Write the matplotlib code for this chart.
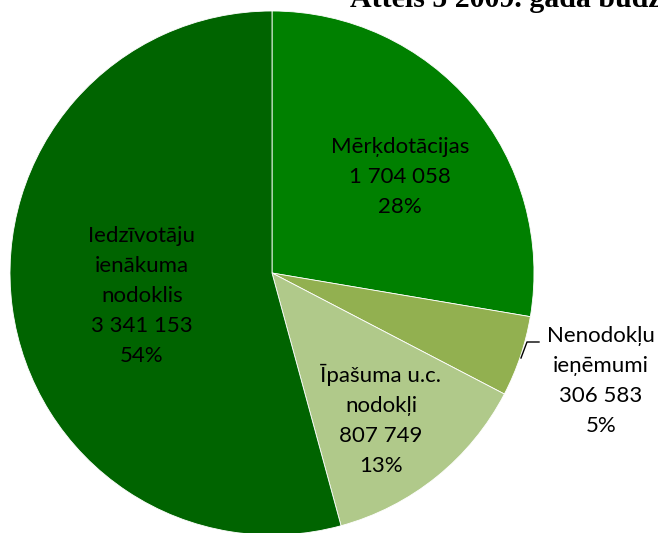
import matplotlib.pyplot as plt

# budget 2009 revenue parts, clockwise from 12 o'clock
names = ["Mērķdotācijas", "Nenodokļu\nieņēmumi", "Īpašuma u.c.\nnodokļi",
         "Iedzīvotāju\nienākuma\nnodoklis"]
values = [1704058, 306583, 807749, 3341153]
shares = ["28%", "5%", "13%", "54%"]
colors = ["#008000", "#92b050", "#b0c98a", "#006400"]

W, H = 658, 533
CX, CY, R = 272, 273, 262   # pie centre and radius in pixels


def px(x, y):
    """pixel position (from top-left) -> data coords (radius = 1)"""
    return (x - CX) / R, (CY - y) / R


def fmt(v):
    return f"{v:,}".replace(",", " ")


fig = plt.figure(figsize=(W / 100, H / 100), dpi=100)
ax = fig.add_axes([0, 0, 1, 1])

ax.pie(values, colors=colors, startangle=90, counterclock=False,
       wedgeprops=dict(edgecolor="white", linewidth=0.6))
# pie() forces an equal aspect; the limits below already keep 1:1
ax.set_aspect("auto")
ax.set_xlim(-CX / R, (W - CX) / R)
ax.set_ylim((CY - H) / R, CY / R)
ax.axis("off")

labels = [n + "\n" + fmt(v) + "\n" + s for n, v, s in zip(names, values, shares)]
# label centres (pixels)
label_pos = [(400, 177), (601, 381), (381, 420), (142, 296)]
for lab, (x, y) in zip(labels, label_pos):
    ax.text(*px(x, y), lab, ha="center", va="center", fontsize=16,
            family="Lato", linespacing=1.62, color="black")

# leader line for the small slice
lx = [521, 527, 539]
ly = [358, 342, 342]
pts = [px(a, b) for a, b in zip(lx, ly)]
ax.plot([p[0] for p in pts], [p[1] for p in pts], color="black", lw=1)

# title, clipped by the top of the picture as in the source
ax.text(*px(350, 6), "Attēls 5 2009. gada budžeta ieņēmumi", ha="left",
        va="baseline", fontsize=21.5, fontweight="bold", family="Liberation Serif")

fig.savefig("out.png", dpi=100)
